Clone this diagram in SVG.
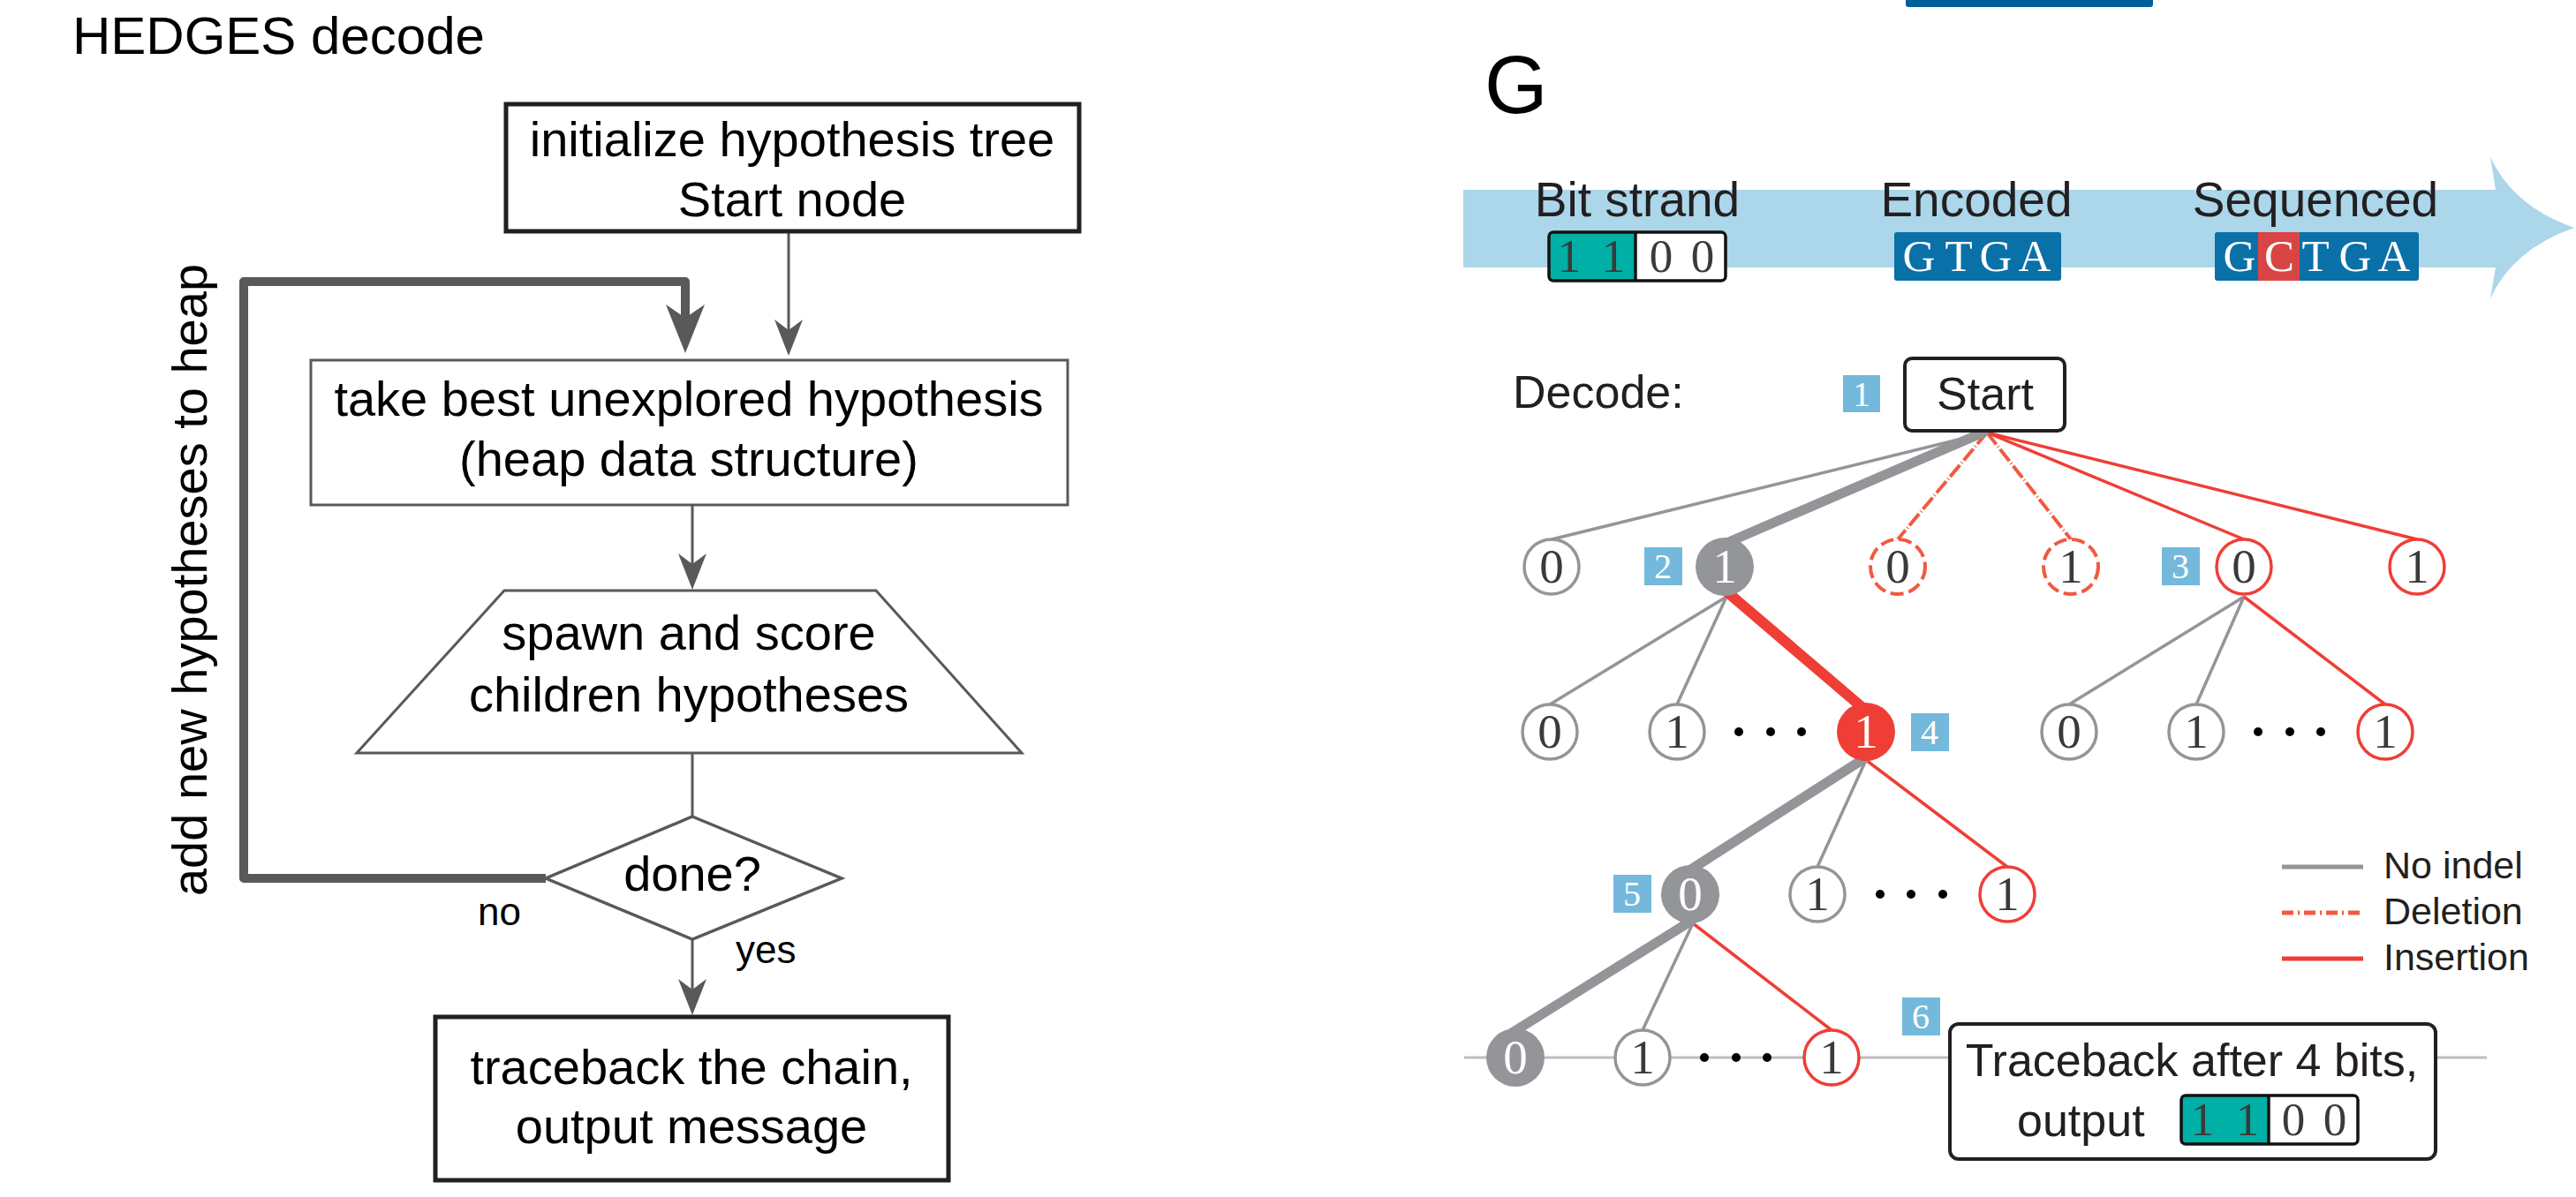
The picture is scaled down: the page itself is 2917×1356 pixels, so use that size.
<svg xmlns="http://www.w3.org/2000/svg" width="2917" height="1356" viewBox="0 0 2917 1356">
<defs>
<style>
.sans{font-family:"Liberation Sans",Arial,sans-serif;}
.serif{font-family:"Liberation Serif","Times New Roman",serif;}
.ft{font-family:"Liberation Sans",Arial,sans-serif;font-size:56px;fill:#000;text-anchor:middle;}
.fl{fill:none;stroke:#58595b;stroke-width:3;}
.rt{font-family:"Liberation Sans",Arial,sans-serif;fill:#231f20;}
.nd{font-family:"Liberation Serif","Times New Roman",serif;font-size:55px;text-anchor:middle;fill:#3a3a3a;}
.ndw{font-family:"Liberation Serif","Times New Roman",serif;font-size:55px;text-anchor:middle;fill:#fff;}
.cg{fill:#fff;stroke:#939598;stroke-width:3.5;}
.cr{fill:#fff;stroke:#ef3e36;stroke-width:3.5;}
.cd{fill:#fff;stroke:#f15a40;stroke-width:4;stroke-dasharray:15 6;}
.cgf{fill:#939598;}
.crf{fill:#ef3e36;}
.eg{stroke:#939598;stroke-width:3.5;fill:none;}
.er{stroke:#ef3e36;stroke-width:3.5;fill:none;}
.ed{stroke:#f15a40;stroke-width:4;fill:none;stroke-dasharray:17 3 1 3;}
.egt{stroke:#939598;stroke-width:11;fill:none;}
.ert{stroke:#ef3e36;stroke-width:12;fill:none;}
.lbl{fill:#74b9dc;}
.lbt{font-family:"Liberation Serif","Times New Roman",serif;font-size:40px;fill:#fff;text-anchor:middle;}
.dot{fill:#000;}
.bx{font-family:"Liberation Serif","Times New Roman",serif;font-size:51px;fill:#fff;text-anchor:middle;}
.bd{font-family:"Liberation Serif","Times New Roman",serif;font-size:53px;fill:#3a3a3a;text-anchor:middle;}
</style>
<marker id="ahThin" viewBox="-14 -18 46 36" refX="0" refY="0" markerWidth="46" markerHeight="36" markerUnits="userSpaceOnUse" orient="auto">
<path d="M29,0 L-12,-16 L0,0 L-12,16 Z" fill="#58595b"/>
</marker>
<marker id="ahThick" viewBox="-18 -24 64 48" refX="0" refY="0" markerWidth="64" markerHeight="48" markerUnits="userSpaceOnUse" orient="auto">
<path d="M40,0 L-15,-22 L0,0 L-15,22 Z" fill="#58595b"/>
</marker>
</defs>
<rect x="0" y="0" width="2917" height="1356" fill="#fff"/>

<!-- LEFT: HEDGES decode flowchart -->
<text id="title-left" class="sans" x="82" y="61" font-size="60" fill="#000">HEDGES decode</text>

<g id="connectors-left">
<line class="fl" x1="893" y1="264" x2="893" y2="374" marker-end="url(#ahThin)"/>
<line class="fl" x1="784" y1="572" x2="784" y2="639" marker-end="url(#ahThin)"/>
<line class="fl" x1="784" y1="853" x2="784" y2="925"/>
<line class="fl" x1="784" y1="1064" x2="784" y2="1121" marker-end="url(#ahThin)"/>
<path d="M618,995 H276 V319 H776 V360" fill="none" stroke="#58595b" stroke-width="10" stroke-linejoin="round" marker-end="url(#ahThick)"/>
<text class="sans" x="234" y="657" font-size="56" fill="#000" text-anchor="middle" transform="rotate(-90 234 657)">add new hypotheses to heap</text>
<text class="sans" x="541" y="1048" font-size="44" fill="#000">no</text>
<text class="sans" x="833" y="1091" font-size="44" fill="#000">yes</text>
</g>

<g id="node-init">
<rect x="573" y="118" width="649" height="144" fill="#fff" stroke="#231f20" stroke-width="5"/>
<text class="ft" x="897" y="177">initialize hypothesis tree</text>
<text class="ft" x="897" y="245">Start node</text>
</g>
<g id="node-take">
<rect x="352" y="408" width="857" height="164" fill="#fff" stroke="#58595b" stroke-width="3"/>
<text class="ft" x="780" y="471">take best unexplored hypothesis</text>
<text class="ft" x="780" y="539">(heap data structure)</text>
</g>
<g id="node-spawn">
<polygon points="571,669 992,669 1157,853 404,853" fill="#fff" stroke="#58595b" stroke-width="3"/>
<text class="ft" x="780" y="736">spawn and score</text>
<text class="ft" x="780" y="806">children hypotheses</text>
</g>
<g id="node-done">
<polygon points="784,925 953,995 784,1064 618,995" fill="#fff" stroke="#58595b" stroke-width="3.5"/>
<text class="ft" x="784" y="1009" font-size="55">done?</text>
</g>
<g id="node-traceback">
<rect x="493" y="1152" width="581" height="185" fill="#fff" stroke="#231f20" stroke-width="5"/>
<text class="ft" x="783" y="1228">traceback the chain,</text>
<text class="ft" x="783" y="1295">output message</text>
</g>

<!-- RIGHT: panel G -->
<rect id="top-bar" x="2158" y="-6" width="280" height="14" rx="3" fill="#005f99"/>
<text id="panel-G" class="sans" x="1681" y="128" font-size="92" fill="#000">G</text>

<g id="strand-arrow">
<path d="M1657,215 H2826 L2820,178 Q2846,234 2915,258 Q2846,282 2820,338 L2826,303 H1657 Z" fill="#acd6ea"/>
</g>

<g id="bit-strand">
<text class="rt" x="1854" y="245" font-size="55" text-anchor="middle">Bit strand</text>
<rect x="1754" y="263" width="98" height="55" fill="#00afa5"/>
<rect x="1852" y="263" width="102" height="55" fill="#fff"/>
<rect x="1754" y="263" width="200" height="55" rx="5" fill="none" stroke="#111" stroke-width="3.5"/>
<line x1="1852" y1="263" x2="1852" y2="318" stroke="#111" stroke-width="3.5"/>
<text class="bd" x="1777" y="308">1</text>
<text class="bd" x="1827" y="308">1</text>
<text class="bd" x="1881" y="308">0</text>
<text class="bd" x="1928" y="308">0</text>
</g>

<g id="encoded">
<text class="rt" x="2238" y="245" font-size="55" text-anchor="middle">Encoded</text>
<rect x="2145" y="263" width="189" height="55" rx="3" fill="#0a70a8"/>
<text class="bx" x="2173" y="307">G</text>
<text class="bx" x="2218" y="307">T</text>
<text class="bx" x="2260" y="307">G</text>
<text class="bx" x="2304" y="307">A</text>
</g>

<g id="sequenced">
<text class="rt" x="2622" y="245" font-size="55" text-anchor="middle">Sequenced</text>
<rect x="2508" y="263" width="231" height="55" rx="3" fill="#0a70a8"/>
<rect x="2557" y="263" width="47" height="55" fill="#d94545"/>
<text class="bx" x="2536" y="307">G</text>
<text class="bx" x="2581" y="307">C</text>
<text class="bx" x="2622" y="307">T</text>
<text class="bx" x="2667" y="307">G</text>
<text class="bx" x="2711" y="307">A</text>
</g>

<text id="decode-label" class="rt" x="1713" y="462" font-size="52">Decode:</text>

<g id="connectors-tree">
<line x1="1658" y1="1198" x2="2208" y2="1198" stroke="#bcbec0" stroke-width="3"/>
<line x1="2758" y1="1198" x2="2816" y2="1198" stroke="#bcbec0" stroke-width="3"/>
<!-- start -> level1 -->
<line class="eg" x1="2250" y1="490" x2="1757" y2="611"/>
<line class="ed" x1="2250" y1="490" x2="2149" y2="611"/>
<line class="ed" x1="2250" y1="490" x2="2345" y2="611"/>
<line class="er" x1="2250" y1="490" x2="2541" y2="611"/>
<line class="er" x1="2250" y1="490" x2="2737" y2="611"/>
<line class="egt" x1="2250" y1="488" x2="1953" y2="616"/>
<!-- node2 -> level2 -->
<line class="eg" x1="1955" y1="676" x2="1755" y2="798"/>
<line class="eg" x1="1955" y1="676" x2="1899" y2="798"/>
<line class="ert" x1="1955" y1="670" x2="2113" y2="805"/>
<!-- node3 -> level2 -->
<line class="eg" x1="2541" y1="676" x2="2343" y2="798"/>
<line class="eg" x1="2541" y1="676" x2="2487" y2="798"/>
<line class="er" x1="2541" y1="676" x2="2701" y2="798"/>
<!-- node4 -> level3 -->
<line class="eg" x1="2113" y1="861" x2="2058" y2="982"/>
<line class="er" x1="2113" y1="861" x2="2273" y2="982"/>
<line class="egt" x1="2113" y1="858" x2="1910" y2="988"/>
<!-- node5 -> level4 -->
<line class="eg" x1="1917" y1="1046" x2="1860" y2="1167"/>
<line class="er" x1="1917" y1="1046" x2="2074" y2="1167"/>
<line class="egt" x1="1917" y1="1042" x2="1709" y2="1172"/>
</g>

<g id="node-start">
<rect x="2157" y="406" width="181" height="82" rx="8" fill="#fff" stroke="#231f20" stroke-width="4"/>
<text class="rt" x="2248" y="464" font-size="52" text-anchor="middle">Start</text>
</g>

<g id="label-1"><rect class="lbl" x="2087" y="425" width="42" height="42"/><text class="lbt" x="2108" y="460">1</text></g>
<g id="label-2"><rect class="lbl" x="1862" y="620" width="43" height="43"/><text class="lbt" x="1883" y="655">2</text></g>
<g id="label-3"><rect class="lbl" x="2448" y="620" width="43" height="43"/><text class="lbt" x="2469" y="655">3</text></g>
<g id="label-4"><rect class="lbl" x="2164" y="808" width="43" height="43"/><text class="lbt" x="2185" y="843">4</text></g>
<g id="label-5"><rect class="lbl" x="1827" y="991" width="43" height="43"/><text class="lbt" x="1848" y="1026">5</text></g>
<g id="label-6"><rect class="lbl" x="2154" y="1130" width="43" height="43"/><text class="lbt" x="2175" y="1165">6</text></g>

<!-- level 1 -->
<g id="n1a"><circle class="cg" cx="1757" cy="642" r="31"/><text class="nd" x="1757" y="660">0</text></g>
<g id="n1b"><circle class="cgf" cx="1953" cy="642" r="33"/><text class="ndw" x="1953" y="660">1</text></g>
<g id="n1c"><circle class="cd" cx="2149" cy="642" r="31"/><text class="nd" x="2149" y="660">0</text></g>
<g id="n1d"><circle class="cd" cx="2345" cy="642" r="31"/><text class="nd" x="2345" y="660">1</text></g>
<g id="n1e"><circle class="cr" cx="2541" cy="642" r="31"/><text class="nd" x="2541" y="660">0</text></g>
<g id="n1f"><circle class="cr" cx="2737" cy="642" r="31"/><text class="nd" x="2737" y="660">1</text></g>

<!-- level 2 -->
<g id="n2a"><circle class="cg" cx="1755" cy="829" r="31"/><text class="nd" x="1755" y="847">0</text></g>
<g id="n2b"><circle class="cg" cx="1899" cy="829" r="31"/><text class="nd" x="1899" y="847">1</text></g>
<g id="n2dots"><circle class="dot" cx="1969" cy="829" r="5"/><circle class="dot" cx="2005" cy="829" r="5"/><circle class="dot" cx="2040" cy="829" r="5"/></g>
<g id="n2c"><circle class="crf" cx="2113" cy="829" r="33"/><text class="ndw" x="2113" y="847">1</text></g>
<g id="n2d"><circle class="cg" cx="2343" cy="829" r="31"/><text class="nd" x="2343" y="847">0</text></g>
<g id="n2e"><circle class="cg" cx="2487" cy="829" r="31"/><text class="nd" x="2487" y="847">1</text></g>
<g id="n2dots2"><circle class="dot" cx="2557" cy="829" r="5"/><circle class="dot" cx="2593" cy="829" r="5"/><circle class="dot" cx="2628" cy="829" r="5"/></g>
<g id="n2f"><circle class="cr" cx="2701" cy="829" r="31"/><text class="nd" x="2701" y="847">1</text></g>

<!-- level 3 -->
<g id="n3a"><circle class="cgf" cx="1914" cy="1013" r="33"/><text class="ndw" x="1914" y="1031">0</text></g>
<g id="n3b"><circle class="cg" cx="2058" cy="1013" r="31"/><text class="nd" x="2058" y="1031">1</text></g>
<g id="n3dots"><circle class="dot" cx="2129" cy="1013" r="5"/><circle class="dot" cx="2164" cy="1013" r="5"/><circle class="dot" cx="2200" cy="1013" r="5"/></g>
<g id="n3c"><circle class="cr" cx="2273" cy="1013" r="31"/><text class="nd" x="2273" y="1031">1</text></g>

<!-- level 4 -->
<g id="n4a"><circle class="cgf" cx="1716" cy="1198" r="33"/><text class="ndw" x="1716" y="1216">0</text></g>
<g id="n4b"><circle class="cg" cx="1860" cy="1198" r="31"/><text class="nd" x="1860" y="1216">1</text></g>
<g id="n4dots"><circle class="dot" cx="1930" cy="1198" r="5"/><circle class="dot" cx="1966" cy="1198" r="5"/><circle class="dot" cx="2001" cy="1198" r="5"/></g>
<g id="n4c"><circle class="cr" cx="2074" cy="1198" r="31"/><text class="nd" x="2074" y="1216">1</text></g>

<g id="legend">
<line x1="2584" y1="982" x2="2676" y2="982" stroke="#939598" stroke-width="5"/>
<line x1="2584" y1="1034" x2="2676" y2="1034" stroke="#f15a40" stroke-width="5" stroke-dasharray="13 5 2 5"/>
<line x1="2584" y1="1086" x2="2676" y2="1086" stroke="#ef3e36" stroke-width="5"/>
<text class="rt" x="2699" y="995" font-size="43" fill="#000">No indel</text>
<text class="rt" x="2699" y="1047" font-size="43" fill="#000">Deletion</text>
<text class="rt" x="2699" y="1099" font-size="43" fill="#000">Insertion</text>
</g>

<g id="node-traceback-out">
<rect x="2208" y="1160" width="550" height="153" rx="10" fill="#fff" stroke="#231f20" stroke-width="4"/>
<text class="rt" x="2482" y="1219" font-size="52" text-anchor="middle">Traceback after 4 bits,</text>
<text class="rt" x="2284" y="1287" font-size="52">output</text>
<rect x="2470" y="1241" width="99" height="55" fill="#00afa5"/>
<rect x="2569" y="1241" width="101" height="55" fill="#fff"/>
<rect x="2470" y="1241" width="200" height="55" rx="5" fill="none" stroke="#111" stroke-width="3.5"/>
<line x1="2569" y1="1241" x2="2569" y2="1296" stroke="#111" stroke-width="3.5"/>
<text class="bd" x="2494" y="1286">1</text>
<text class="bd" x="2545" y="1286">1</text>
<text class="bd" x="2597" y="1286">0</text>
<text class="bd" x="2644" y="1286">0</text>
</g>
</svg>
